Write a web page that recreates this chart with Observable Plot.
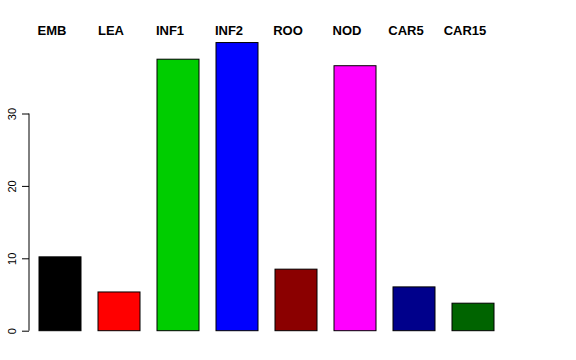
<!DOCTYPE html>
<html>
<head>
<meta charset="utf-8">
<script src="https://cdn.jsdelivr.net/npm/d3@7"></script>
<script src="https://cdn.jsdelivr.net/npm/@observablehq/plot@0.6"></script>
<style>
  html, body { margin: 0; padding: 0; background: #fff; }
  #chart svg { display: block; }
</style>
</head>
<body>
<div id="chart"></div>
<script>
const categories = ["EMB", "LEA", "INF1", "INF2", "ROO", "NOD", "CAR5", "CAR15"];
const values = [10.2, 5.35, 37.5, 39.8, 8.5, 36.6, 6.05, 3.8];
const colors = ["#000000", "#FF0000", "#00CD00", "#0000FF", "#8B0000", "#FF00FF", "#00008B", "#006400"];
const yTicks = [0, 10, 20, 30];

const data = categories.map((c, i) => ({cat: c, val: values[i], col: colors[i]}));

const plot = Plot.plot({
  width: 576,
  height: 360,
  marginLeft: 29,
  marginRight: 81,
  marginTop: 41,
  marginBottom: 29,
  style: {fontFamily: "'Liberation Sans', Arial, sans-serif", background: "#fff", overflow: "visible"},
  x: {domain: categories, range: [38.3, 494.7], paddingInner: 0.29, paddingOuter: 0, axis: null},
  y: {domain: [0, 40], range: [330.7, 41.1], axis: null},
  marks: [
    Plot.barY(data, {x: "cat", y: "val", fill: "col", stroke: "#000", strokeWidth: 1}),
    Plot.axisY({ticks: yTicks, tickSize: 7, tickFormat: () => "", label: null, stroke: "#000"}),
    Plot.text(yTicks, {y: d => d, frameAnchor: "left", dx: -17, rotate: -90, textAnchor: "middle", fontSize: 11, fill: "#000"}),
    Plot.text(categories, {x: d => d, frameAnchor: "top", dy: -16, dx: -8.5, fontSize: 13, fontWeight: "bold", fill: "#000"})
  ]
});

document.getElementById("chart").appendChild(plot);

// vertical axis domain line from 0 to 30, positioned via the y scale
const ys = plot.scale("y");
d3.select(plot).append("line")
  .attr("x1", 29).attr("x2", 29)
  .attr("y1", ys.apply(yTicks[0])).attr("y2", ys.apply(yTicks[yTicks.length - 1]))
  .attr("stroke", "#000").attr("stroke-width", 1);
</script>
</body>
</html>
